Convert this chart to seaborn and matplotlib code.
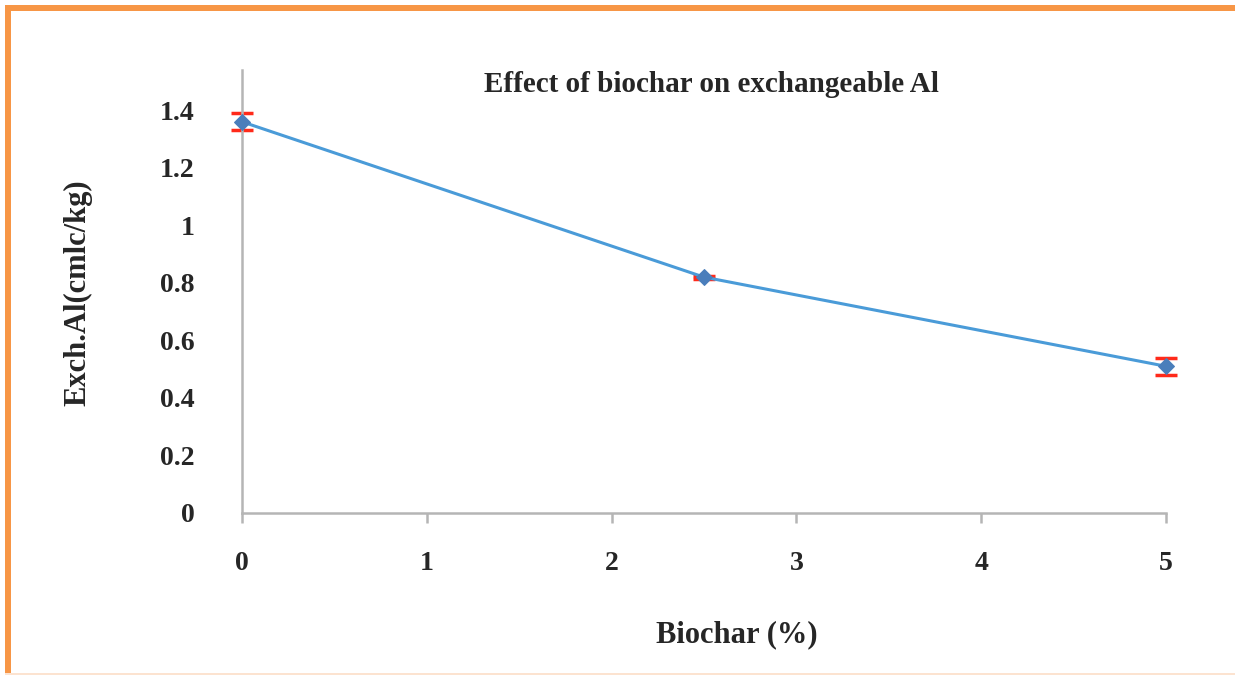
import matplotlib
matplotlib.use("Agg")
import matplotlib.pyplot as plt
import seaborn as sns
import pandas as pd
from matplotlib.patches import Rectangle

biochar = [0, 2.5, 5]
exch_al = [1.36, 0.82, 0.51]
err = [0.03, 0.005, 0.03]
y_ticks = [0, 0.2, 0.4, 0.6, 0.8, 1.0, 1.2, 1.4]
y_tick_labels = ["0", "0.2", "0.4", "0.6", "0.8", "1", "1.2", "1.4"]
x_ticks = [0, 1, 2, 3, 4, 5]
x_tick_labels = ["0", "1", "2", "3", "4", "5"]

sns.set_theme(style="white")
plt.rcParams['font.family'] = ['Liberation Serif', 'DejaVu Serif']
plt.rcParams['font.weight'] = 'bold'

df = pd.DataFrame({"Biochar": biochar, "Al": exch_al})

fig = plt.figure(figsize=(12.35, 6.75), dpi=100)
fig.patch.set_facecolor("white")
ax = fig.add_axes([242/1235, 1-513/675, 924/1235, 443/675])

eb = ax.errorbar(biochar, exch_al, yerr=err, fmt='none', ecolor='#FF2A1A',
                 elinewidth=2.0, capsize=8, capthick=2.5, zorder=2)
for part in eb.lines:
    if part is None:
        continue
    items = part if isinstance(part, (list, tuple)) else [part]
    for it in items:
        it.set_clip_on(False)

sns.lineplot(data=df, x="Biochar", y="Al", ax=ax, color='#4A9BD8', lw=2.2,
             marker='D', markersize=8, markerfacecolor='#4A7EBB',
             markeredgecolor='#4A7EBB', zorder=3)
for ln in ax.lines:
    ln.set_clip_on(False)

ax.set_xlim(0, 5)
ax.set_ylim(0, 1.54)
ax.set_xticks(x_ticks)
ax.set_xticklabels(x_tick_labels, fontsize=20, fontweight='bold')
ax.set_yticks(y_ticks)
ax.set_yticklabels(y_tick_labels, fontsize=20, fontweight='bold')

for s in ['top', 'right']:
    ax.spines[s].set_visible(False)
for s in ['left', 'bottom']:
    ax.spines[s].set_color('#B5B5B5')
    ax.spines[s].set_linewidth(1.8)

ax.tick_params(axis='x', direction='out', length=7, width=1.8, color='#B5B5B5',
               pad=20, bottom=True)
ax.tick_params(axis='y', length=0, pad=34, left=False)

ax.set_xlabel("Biochar (%)", fontsize=22, fontweight='bold')
ax.set_ylabel("Exch.Al(cmlc/kg)", fontsize=22, fontweight='bold')
ax.xaxis.set_label_coords((737-242)/924, (513-635)/443)
ax.xaxis.label.set_va('center')
ax.yaxis.set_label_coords((78-242)/924, (513-293)/443)
ax.yaxis.label.set_va('center')

fig.text(711/1235, 1-85/675, "Effect of biochar on exchangeable Al",
         fontsize=21, fontweight='bold', ha='center', va='center')

# orange frame
fig.patches.append(Rectangle((5/1235, 0), 6/1235, 1-5/675, transform=fig.transFigure,
                             facecolor='#F79646', edgecolor='none'))
fig.patches.append(Rectangle((5/1235, 1-11/675), 1, 6/675, transform=fig.transFigure,
                             facecolor='#F79646', edgecolor='none'))
fig.patches.append(Rectangle((5/1235, 0), 1, 2/675, transform=fig.transFigure,
                             facecolor='#FCE3D0', edgecolor='none'))

fig.savefig("out.png", dpi=100)
